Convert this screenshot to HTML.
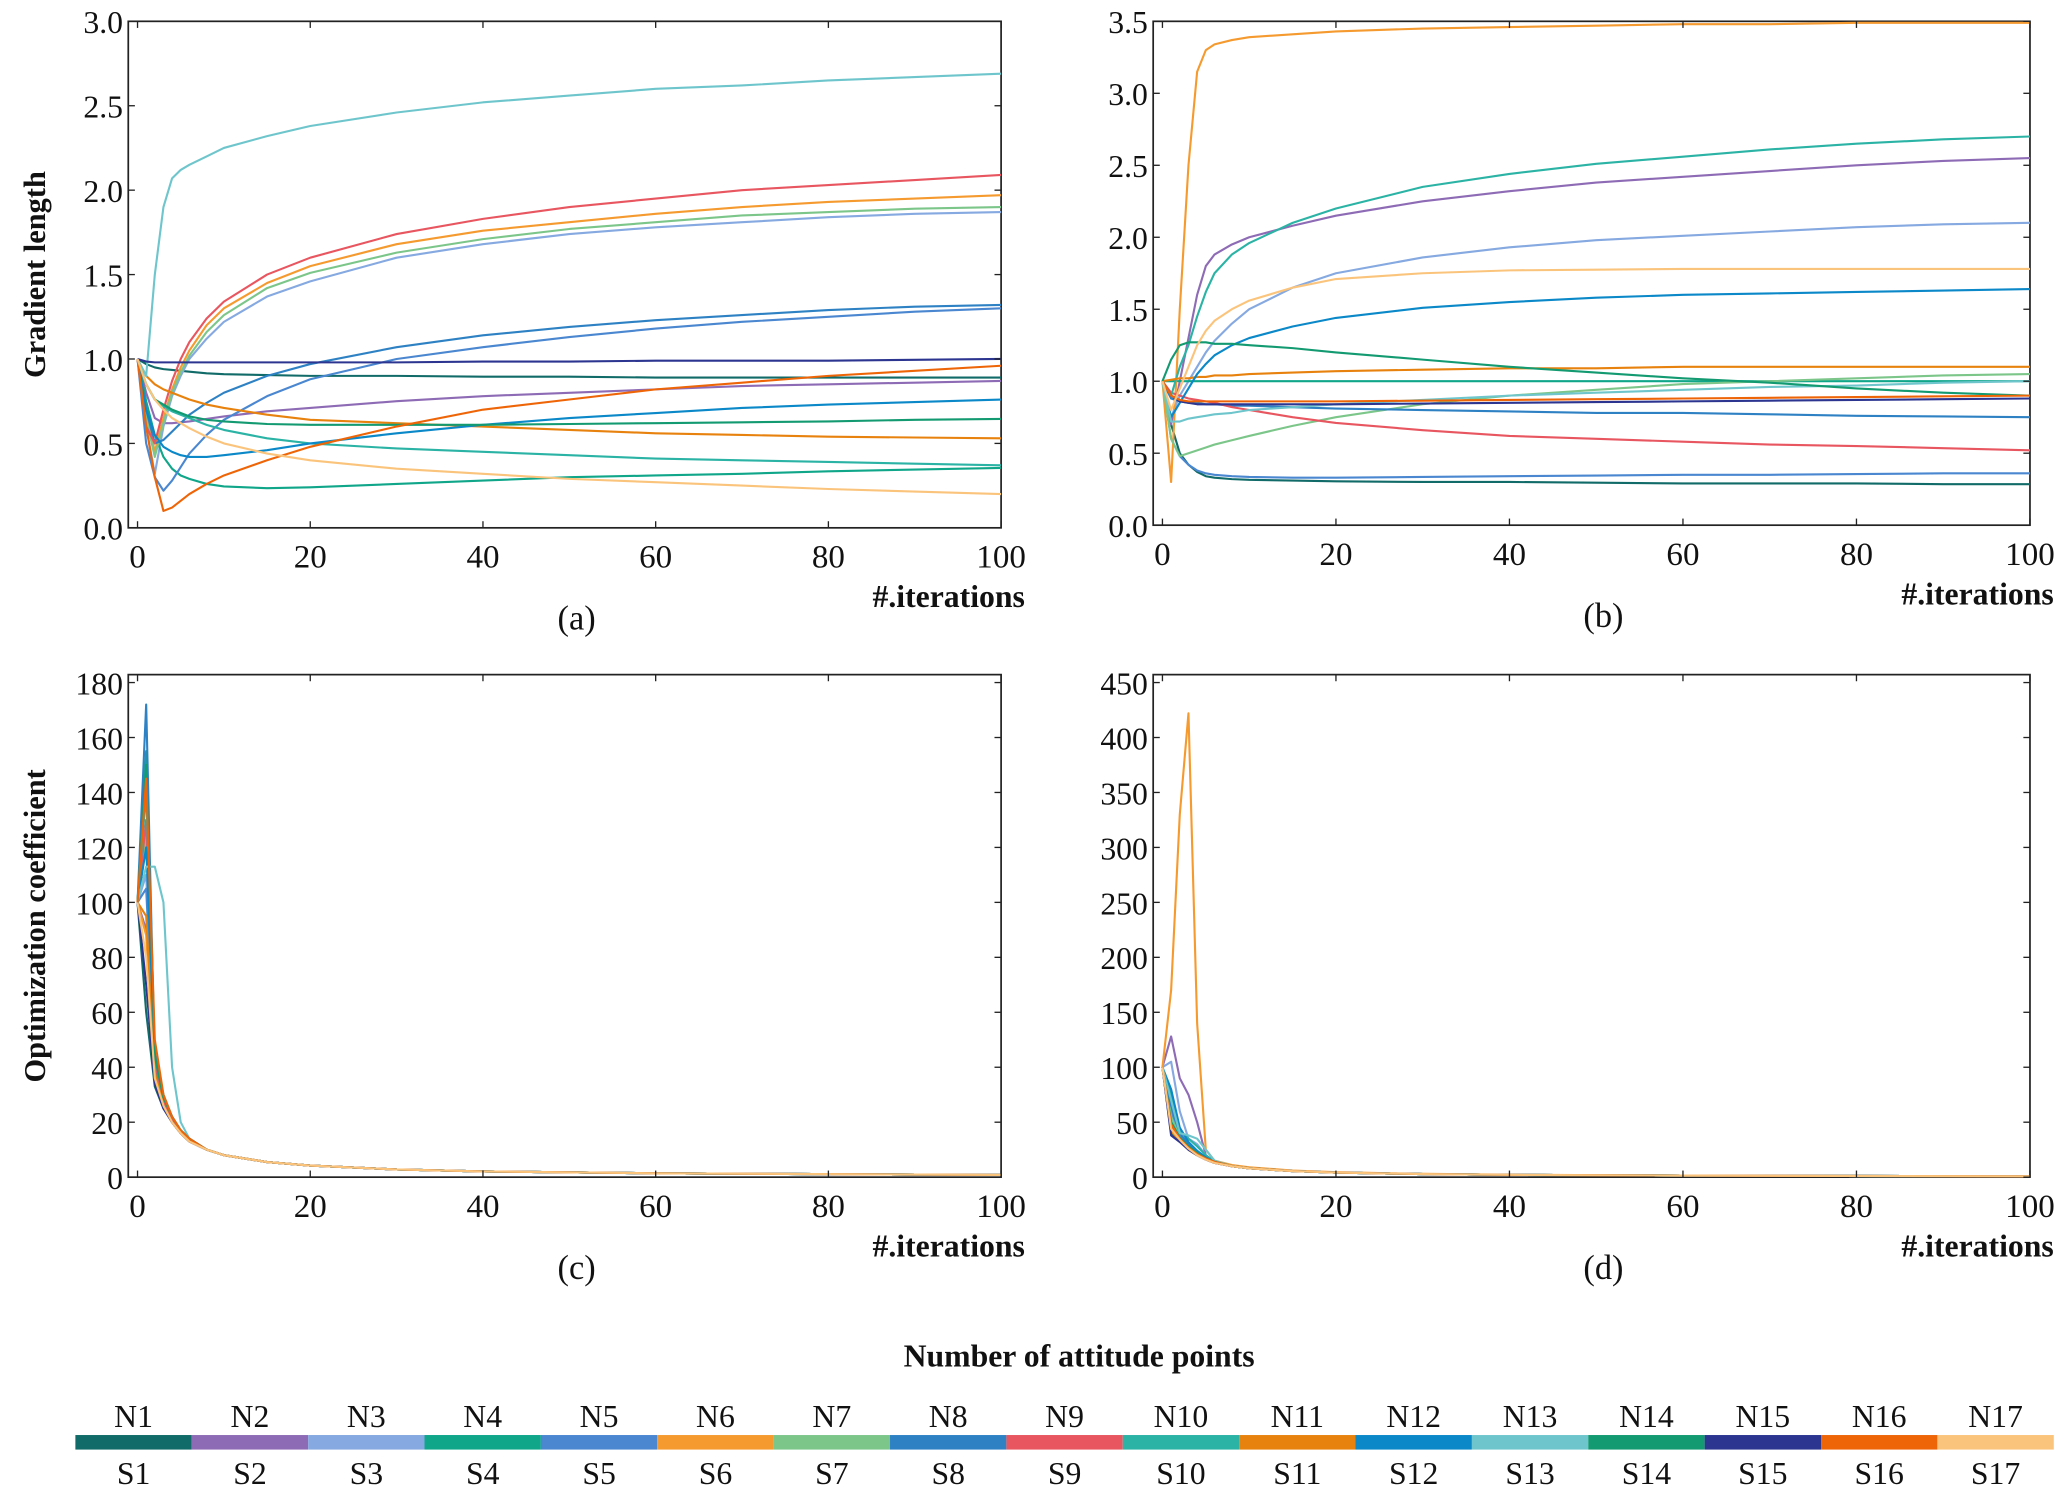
<!DOCTYPE html>
<html><head><meta charset="utf-8"><style>
html,body{margin:0;padding:0;background:#fff}
svg{display:block}
text{font-family:"Liberation Serif",serif;fill:#111}
</style></head><body>
<svg id="fig" width="2067" height="1500" viewBox="0 0 1563 1134" xmlns="http://www.w3.org/2000/svg"></svg>
<script>
const colors=["#116b68","#8e6bb5","#85a9e0","#0fa68a","#4a87d0","#f59a2f","#7cc68a","#2e82c4","#e85660","#2bb3a5","#e8820e","#0a88c8","#6ec6cc","#139a70","#2c3590","#ee6508","#fbc47c"];
const seriesNames=["S1","S2","S3","S4","S5","S6","S7","S8","S9","S10","S11","S12","S13","S14","S15","S16","S17"];
const legendTop=["N1","N2","N3","N4","N5","N6","N7","N8","N9","N10","N11","N12","N13","N14","N15","N16","N17"];
const xIterAB=[0,1,2,3,4,5,6,8,10,15,20,30,40,50,60,70,80,90,100];
const xIterCD=[0,1,2,3,4,5,6,8,10,15,20,30,40,60,100];
const xTicks=[0,20,40,60,80,100];
const yTicksA=[0,0.5,1,1.5,2,2.5,3];
const yTicksB=[0,0.5,1,1.5,2,2.5,3,3.5];
const yTicksC=[0,20,40,60,80,100,120,140,160,180];
const yTicksD=[0,50,100,150,200,250,300,350,400,450];
const panelA=[
[1,0.97,0.95,0.94,0.935,0.93,0.925,0.915,0.91,0.905,0.9,0.9,0.895,0.895,0.89,0.89,0.89,0.89,0.89],
[1,0.8,0.65,0.62,0.62,0.625,0.63,0.645,0.66,0.69,0.71,0.75,0.78,0.8,0.82,0.84,0.85,0.86,0.87],
[1,0.6,0.32,0.6,0.78,0.9,1.0,1.12,1.22,1.37,1.46,1.6,1.68,1.74,1.78,1.81,1.84,1.86,1.87],
[1,0.75,0.55,0.42,0.35,0.31,0.29,0.26,0.245,0.235,0.24,0.26,0.28,0.3,0.31,0.32,0.335,0.345,0.355],
[1,0.5,0.3,0.22,0.28,0.36,0.44,0.55,0.64,0.78,0.88,1.0,1.07,1.13,1.18,1.22,1.25,1.28,1.3],
[1,0.7,0.45,0.65,0.82,0.95,1.05,1.2,1.3,1.45,1.55,1.68,1.76,1.81,1.86,1.9,1.93,1.95,1.97],
[1,0.65,0.42,0.62,0.8,0.92,1.02,1.16,1.26,1.42,1.51,1.63,1.71,1.77,1.81,1.85,1.87,1.89,1.9],
[1,0.7,0.5,0.52,0.57,0.62,0.67,0.74,0.8,0.9,0.97,1.07,1.14,1.19,1.23,1.26,1.29,1.31,1.32],
[1,0.6,0.5,0.7,0.87,1.0,1.1,1.24,1.34,1.5,1.6,1.74,1.83,1.9,1.95,2.0,2.03,2.06,2.09],
[1,0.85,0.76,0.72,0.69,0.67,0.65,0.61,0.58,0.53,0.5,0.47,0.45,0.43,0.41,0.4,0.39,0.38,0.37],
[1,0.9,0.85,0.82,0.8,0.78,0.76,0.73,0.71,0.67,0.64,0.62,0.6,0.58,0.56,0.55,0.54,0.535,0.53],
[1,0.7,0.55,0.48,0.45,0.43,0.42,0.42,0.43,0.46,0.5,0.56,0.61,0.65,0.68,0.71,0.73,0.745,0.76],
[1,0.9,1.5,1.9,2.07,2.12,2.15,2.2,2.25,2.32,2.38,2.46,2.52,2.56,2.6,2.62,2.65,2.67,2.69],
[1,0.85,0.76,0.73,0.7,0.68,0.66,0.64,0.63,0.615,0.61,0.61,0.61,0.615,0.62,0.625,0.63,0.64,0.645],
[1,0.985,0.98,0.98,0.98,0.98,0.98,0.98,0.98,0.98,0.98,0.98,0.985,0.985,0.99,0.99,0.99,0.995,1.0],
[1,0.6,0.3,0.1,0.12,0.16,0.2,0.26,0.31,0.4,0.48,0.6,0.7,0.76,0.82,0.86,0.9,0.93,0.96],
[1,0.85,0.76,0.7,0.65,0.62,0.59,0.54,0.5,0.44,0.4,0.35,0.32,0.29,0.27,0.25,0.23,0.215,0.2]];
const panelB=[
[1,0.7,0.5,0.42,0.37,0.34,0.33,0.32,0.315,0.31,0.305,0.3,0.3,0.295,0.29,0.29,0.29,0.285,0.285],
[1,0.7,1.0,1.3,1.6,1.8,1.88,1.95,2.0,2.08,2.15,2.25,2.32,2.38,2.42,2.46,2.5,2.53,2.55],
[1,0.75,0.9,1.0,1.1,1.2,1.28,1.4,1.5,1.65,1.75,1.86,1.93,1.98,2.01,2.04,2.07,2.09,2.1],
[1,1,1,1,1,1,1,1,1,1,1,1,1,1,1,1,1,1,1],
[1,0.6,0.48,0.42,0.38,0.36,0.35,0.34,0.335,0.33,0.33,0.335,0.34,0.345,0.35,0.35,0.355,0.36,0.36],
[1,0.3,1.5,2.5,3.15,3.3,3.34,3.37,3.39,3.41,3.43,3.45,3.46,3.47,3.48,3.48,3.49,3.49,3.49],
[1,0.6,0.48,0.5,0.52,0.54,0.56,0.59,0.62,0.69,0.75,0.84,0.9,0.94,0.98,1.0,1.02,1.04,1.05],
[1,0.88,0.86,0.85,0.85,0.84,0.84,0.83,0.83,0.82,0.81,0.8,0.79,0.78,0.78,0.77,0.76,0.755,0.75],
[1,0.92,0.9,0.88,0.87,0.86,0.85,0.82,0.8,0.75,0.71,0.66,0.62,0.6,0.58,0.56,0.55,0.535,0.52],
[1,0.9,1.1,1.25,1.45,1.62,1.75,1.88,1.96,2.1,2.2,2.35,2.44,2.51,2.56,2.61,2.65,2.68,2.7],
[1,1.01,1.02,1.02,1.03,1.03,1.04,1.04,1.05,1.06,1.07,1.08,1.09,1.09,1.1,1.1,1.1,1.1,1.1],
[1,0.75,0.85,0.95,1.05,1.12,1.18,1.25,1.3,1.38,1.44,1.51,1.55,1.58,1.6,1.61,1.62,1.63,1.64],
[1,0.72,0.72,0.74,0.75,0.76,0.77,0.78,0.8,0.82,0.84,0.87,0.9,0.92,0.94,0.96,0.97,0.99,1.0],
[1,1.15,1.25,1.27,1.27,1.27,1.26,1.26,1.25,1.23,1.2,1.15,1.1,1.06,1.02,0.99,0.95,0.92,0.9],
[1,0.9,0.86,0.85,0.84,0.84,0.84,0.84,0.84,0.84,0.84,0.845,0.85,0.855,0.86,0.865,0.87,0.875,0.88],
[1,0.9,0.87,0.86,0.86,0.86,0.86,0.86,0.86,0.86,0.86,0.865,0.87,0.875,0.88,0.885,0.89,0.895,0.9],
[1,0.8,0.95,1.1,1.25,1.35,1.42,1.5,1.56,1.65,1.71,1.75,1.77,1.775,1.78,1.78,1.78,1.78,1.78]];
const panelC=[
[100,60,33,25,20,16,13,10,8,5.5,4.2,2.8,2.1,1.4,0.8],
[100,90,38,26,20,16,13,10,8,5.5,4.2,2.8,2.1,1.4,0.8],
[100,110,40,27,21,16,13,10,8,5.5,4.2,2.8,2.1,1.4,0.8],
[100,155,45,28,21,17,14,10,8,5.5,4.2,2.8,2.1,1.4,0.8],
[100,105,40,27,20,16,13,10,8,5.5,4.2,2.8,2.1,1.4,0.8],
[100,88,35,26,20,16,13,10,8,5.5,4.2,2.8,2.1,1.4,0.8],
[100,125,42,28,21,17,14,10,8,5.5,4.2,2.8,2.1,1.4,0.8],
[100,172,40,28,21,17,14,10,8,5.5,4.2,2.8,2.1,1.4,0.8],
[100,130,42,28,21,17,14,10,8,5.5,4.2,2.8,2.1,1.4,0.8],
[100,140,44,29,22,17,14,10,8,5.5,4.2,2.8,2.1,1.4,0.8],
[100,95,38,26,20,16,13,10,8,5.5,4.2,2.8,2.1,1.4,0.8],
[100,120,45,30,22,17,14,10,8,5.5,4.2,2.8,2.1,1.4,0.8],
[100,113,113,100,40,20,14,10,8,5.5,4.2,2.8,2.1,1.4,0.8],
[100,150,44,29,22,17,14,10,8,5.5,4.2,2.8,2.1,1.4,0.8],
[100,70,34,25,20,16,13,10,8,5.5,4.2,2.8,2.1,1.4,0.8],
[100,145,50,30,22,17,14,10,8,5.5,4.2,2.8,2.1,1.4,0.8],
[100,80,36,26,20,16,13,10,8,5.5,4.2,2.8,2.1,1.4,0.8]];
const panelD=[
[100,40,33,25,20,16,13,10,8,5.5,4.2,2.8,2.1,1.4,0.8],
[100,128,90,75,50,20,14,10,8,5.5,4.2,2.8,2.1,1.4,0.8],
[100,105,60,35,30,20,14,10,8,5.5,4.2,2.8,2.1,1.4,0.8],
[100,50,35,27,21,17,14,10,8,5.5,4.2,2.8,2.1,1.4,0.8],
[100,60,38,28,22,17,14,10,8,5.5,4.2,2.8,2.1,1.4,0.8],
[100,170,330,422,140,25,15,11,9,6,4.5,3,2.2,1.4,0.8],
[100,55,36,27,21,17,14,10,8,5.5,4.2,2.8,2.1,1.4,0.8],
[100,65,40,30,22,17,14,10,8,5.5,4.2,2.8,2.1,1.4,0.8],
[100,45,34,26,20,16,13,10,8,5.5,4.2,2.8,2.1,1.4,0.8],
[100,75,42,35,28,20,14,10,8,5.5,4.2,2.8,2.1,1.4,0.8],
[100,42,33,25,20,16,13,10,8,5.5,4.2,2.8,2.1,1.4,0.8],
[100,80,45,32,24,18,14,10,8,5.5,4.2,2.8,2.1,1.4,0.8],
[100,70,40,38,35,25,15,10,8,5.5,4.2,2.8,2.1,1.4,0.8],
[100,50,36,28,22,17,14,10,8,5.5,4.2,2.8,2.1,1.4,0.8],
[100,38,32,25,20,16,13,10,8,5.5,4.2,2.8,2.1,1.4,0.8],
[100,48,35,27,21,17,14,10,8,5.5,4.2,2.8,2.1,1.4,0.8],
[100,44,34,26,20,16,13,10,8,5.5,4.2,2.8,2.1,1.4,0.8]];

const NS="http://www.w3.org/2000/svg";
const svg=document.getElementById('fig');
function mk(tag,attrs,parent,txt){const e=document.createElementNS(NS,tag);for(const k in attrs)e.setAttribute(k,attrs[k]);if(txt!==undefined)e.textContent=txt;(parent||svg).appendChild(e);return e;}

function panel(id,box,yMax,yTicks,yFmt,xs,data,title,letter){
  const g=mk('g',{});
  
  
  const sx=v=>box.x0+(v)*(box.x100-box.x0)/100;
  const sy=v=>box.yb-(v)*(box.yb-box.ymaxPix)/yMax;
  const fr=mk('rect',{x:box.l,y:box.t,width:box.r-box.l,height:box.yb-box.t,fill:'none',stroke:'#222','stroke-width':1.3},g);
  
  
  data.forEach((ser,i)=>{
    const pts=ser.map((v,j)=>sx(xs[j]).toFixed(2)+','+sy(v).toFixed(2)).join(' ');
    const pl=mk('polyline',{points:pts,fill:'none',stroke:colors[i],'stroke-width':1.6,'stroke-linejoin':'round'},g);
    
    
  });
  xTicks.forEach(t=>{
    const x=sx(t);
    mk('line',{x1:x,x2:x,y1:box.yb,y2:box.yb-5,stroke:'#222','stroke-width':1},g);
    mk('line',{x1:x,x2:x,y1:box.t,y2:box.t+5,stroke:'#222','stroke-width':1},g);
    const tl=mk('text',{x:x,y:box.yb+30,'text-anchor':'middle','font-size':25},g,String(t));
    
    
  });
  yTicks.forEach(t=>{
    const y=sy(t);
    mk('line',{x1:box.l,x2:box.l+5,y1:y,y2:y,stroke:'#222','stroke-width':1},g);
    mk('line',{x1:box.r,x2:box.r-5,y1:y,y2:y,stroke:'#222','stroke-width':1},g);
    const tl=mk('text',{x:box.l-4,y:y+9,'text-anchor':'end','font-size':24},g,yFmt(t));
    
    
  });
  const xt=mk('text',{x:box.r+18,y:box.yb+60,'text-anchor':'end','font-size':24,'font-weight':'bold'},g,'#.iterations');
  
  
  const cap=mk('text',{x:(box.l+box.r)/2+9,y:box.yb+77,'text-anchor':'middle','font-size':26},g,'('+letter+')');
  
  
  if(title){
    const yt=mk('text',{x:0,y:0,'text-anchor':'middle','font-size':23,'font-weight':'bold',transform:'translate(34,'+((box.t+box.yb)/2)+') rotate(-90)'},g,title);
    
    
  }
}
const f1=v=>v.toFixed(1), f0=v=>String(v);
panel('a',{l:97,r:757,t:16,yb:399,x0:104,x100:757,ymaxPix:16},3,yTicksA,f1,xIterAB,panelA,'Gradient length','a');
panel('b',{l:872,r:1535,t:16,yb:397,x0:879,x100:1535,ymaxPix:16},3.5,yTicksB,f1,xIterAB,panelB,null,'b');
panel('c',{l:97,r:757,t:510,yb:890,x0:104,x100:757,ymaxPix:516},180,yTicksC,f0,xIterCD,panelC,'Optimization coefficient','c');
panel('d',{l:872,r:1535,t:510,yb:890,x0:879,x100:1535,ymaxPix:516},450,yTicksD,f0,xIterCD,panelD,null,'d');

const lg=mk('g',{});


const lt=mk('text',{x:816,y:1033,'text-anchor':'middle','font-size':24,'font-weight':'bold'},lg,'Number of attitude points');


colors.forEach((c,i)=>{
  const x=57+i*88;
  const r=mk('rect',{x:x,y:1085,width:88,height:11,fill:c},lg);
  
  
  const tn=mk('text',{x:x+44,y:1079,'text-anchor':'middle','font-size':24},lg,legendTop[i]);
  
  
  const ts=mk('text',{x:x+44,y:1122,'text-anchor':'middle','font-size':24},lg,seriesNames[i]);
  
  
});
</script>
</body></html>
